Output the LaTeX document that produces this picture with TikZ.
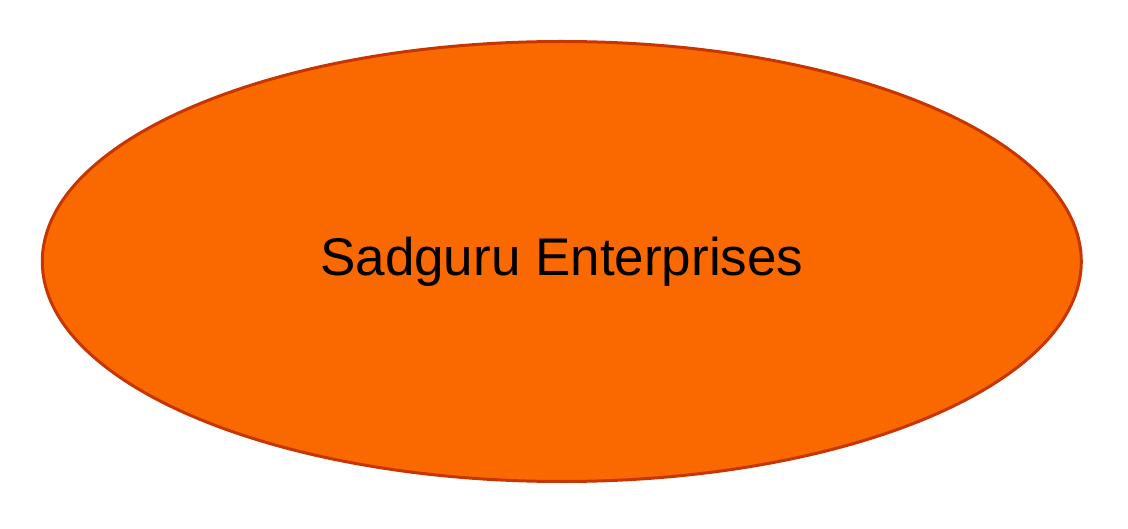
\documentclass[tikz,border=0pt]{standalone}
\usepackage{fontspec}
\setmainfont{Liberation Sans}
\usetikzlibrary{shapes.geometric}
\definecolor{firmfill}{HTML}{FA6800}
\definecolor{firmline}{HTML}{C73500}
\tikzset{
  firmshape/.style={ellipse, draw=firmline, fill=firmfill, line width=3pt,
    minimum width=1039pt, minimum height=440pt, inner sep=0pt,
    font=\fontsize{53}{64}\selectfont}
}
\begin{document}
\begin{tikzpicture}[x=1pt,y=1pt]
      \useasboundingbox (0,0) rectangle (1128,528);
      \node[firmshape] (firm) at (561.8,266.5) {Sadguru Enterprises};
    \end{tikzpicture}
\end{document}
